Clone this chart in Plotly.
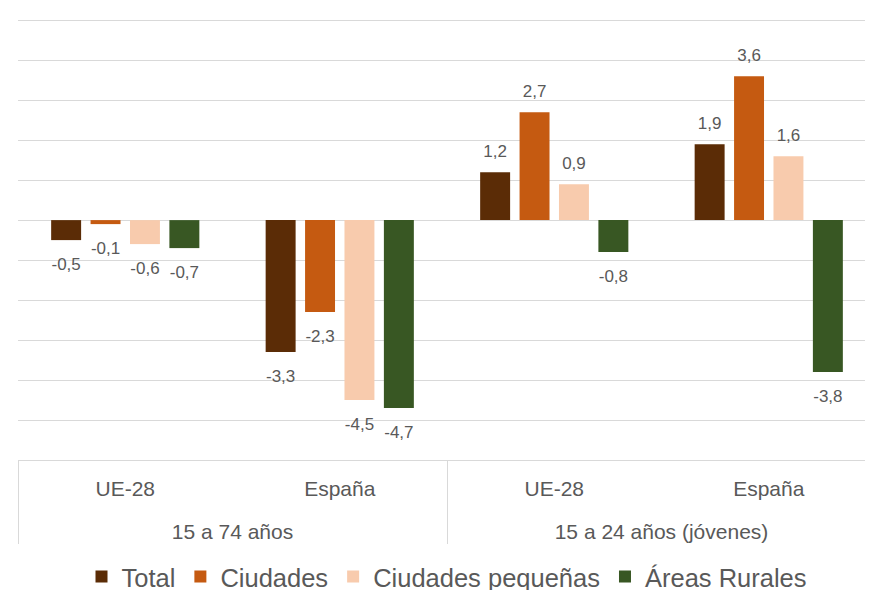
import plotly.graph_objects as go

age_groups = ["15 a 74 años", "15 a 74 años", "15 a 24 años (jóvenes)", "15 a 24 años (jóvenes)"]
regions = ["UE-28", "España", "UE-28", "España"]

series_names = ["Total", "Ciudades", "Ciudades pequeñas", "Áreas Rurales"]
total = [-0.5, -3.3, 1.2, 1.9]
ciudades = [-0.1, -2.3, 2.7, 3.6]
ciudades_pequenas = [-0.6, -4.5, 0.9, 1.6]
areas_rurales = [-0.7, -4.7, -0.8, -3.8]
colors = ["#5B2C06", "#C55A11", "#F8CBAD", "#385723"]

TXT = "#595959"
FONT = "Liberation Sans, Arial, sans-serif"
LABEL_SIZE = 17
CAT_SIZE = 21
SPACER = "<span style='color:rgba(0,0,0,0)'>.</span>"
BIG_SPACER = "<span style='color:rgba(0,0,0,0);font-size:22px'>.</span>"


def label_texts(values):
    texts, sizes = [], []
    for v in values:
        lab = f"{v:.1f}".replace(".", ",")
        core = f"<span style='font-size:{LABEL_SIZE}px'>{lab}</span>"
        if v >= 0:
            texts.append(core + "<br>" + SPACER)
            sizes.append(8)
        else:
            texts.append(SPACER + "<br>" + core)
            sizes.append(12)
    return texts, sizes


# display strings for the two-level category axis (inner row gets a spacer line)
inner_disp = [f"{r}<br>{BIG_SPACER}" for r in regions]
outer_disp = list(age_groups)

all_values = [total, ciudades, ciudades_pequenas, areas_rurales]
fig = go.Figure()
for i, (name, vals, col) in enumerate(zip(series_names, all_values, colors)):
    texts, sizes = label_texts(vals)
    fig.add_trace(go.Bar(
        name=name,
        x=[outer_disp, inner_disp],
        y=vals,
        marker=dict(color=col, line=dict(width=0)),
        text=texts,
        textposition="outside",
        textfont=dict(size=sizes, color=TXT, family=FONT),
        constraintext="none",
        cliponaxis=False,
        hoverinfo="skip",
    ))

fig.update_layout(
    width=873,
    height=590,
    margin=dict(l=10, r=5, t=11, b=138, autoexpand=False),
    paper_bgcolor="white",
    plot_bgcolor="white",
    barmode="group",
    bargap=0.265,
    bargroupgap=0.24,
    font=dict(family=FONT, color=TXT),
    legend=dict(
        orientation="h",
        x=0.5, xanchor="center",
        y=-0.2653, yanchor="middle",
        font=dict(size=25.5, color=TXT, family=FONT),
        itemwidth=30,
        traceorder="normal",
    ),
    showlegend=True,
)

fig.update_xaxes(
    type="multicategory",
    automargin=False,
    showline=True, linecolor="#D9D9D9", linewidth=1,
    showgrid=False,
    tickfont=dict(size=CAT_SIZE, color=TXT, family=FONT),
    ticklabelstandoff=10,
    showdividers=True, dividercolor="#D9D9D9", dividerwidth=1,
    ticks="",
)
fig.update_yaxes(
    automargin=False,
    range=[-6, 5.03],
    dtick=1,
    showticklabels=False,
    showgrid=True, gridcolor="#D9D9D9", gridwidth=1,
    zeroline=True, zerolinecolor="#D9D9D9", zerolinewidth=1,
    showline=False,
)

fig.write_html("out.html")
